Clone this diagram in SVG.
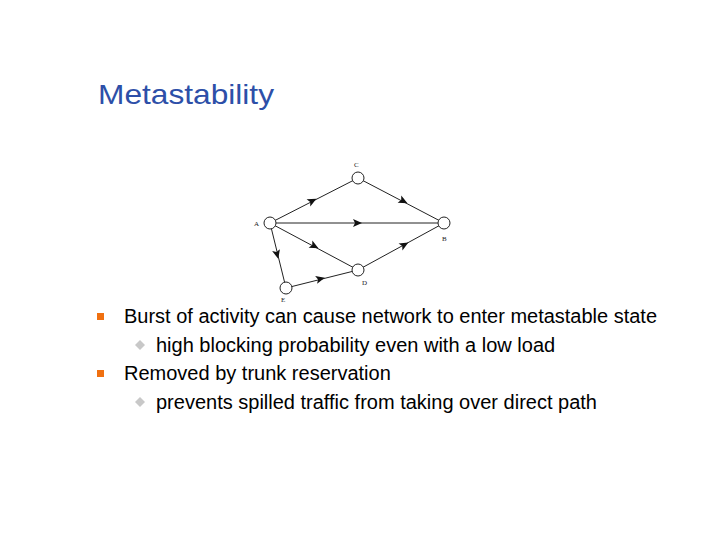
<svg xmlns="http://www.w3.org/2000/svg" width="720" height="540" viewBox="0 0 720 540">
<style>
.n{fill:#fff;stroke:#222;stroke-width:1}
.e{stroke:#222;stroke-width:1;fill:none}
.l{font-family:"Liberation Serif",serif;font-size:7px;fill:#222}
.t{font-family:"Liberation Sans",Arial,sans-serif;font-size:20px;fill:#000}
.a{fill:#111}
</style>
<defs>
<path id="ah" d="M5,0 L-4,-4 L-2,0 L-4,4 Z"/>
</defs>
<rect width="720" height="540" fill="#fff"/>
<text x="98" y="104" font-family="Liberation Sans,Arial,sans-serif" font-size="28" textLength="176" lengthAdjust="spacingAndGlyphs" fill="#2d4fa8">Metastability</text>
<g id="connectors">
<line class="e" x1="270" y1="223" x2="358" y2="178"/>
<line class="e" x1="358" y1="178" x2="444" y2="223"/>
<line class="e" x1="270" y1="223" x2="444" y2="223" stroke-width="1.3"/>
<line class="e" x1="270" y1="223" x2="358" y2="270"/>
<line class="e" x1="358" y1="270" x2="444" y2="223"/>
<line class="e" x1="270" y1="223" x2="286" y2="288"/>
<line class="e" x1="286" y1="288" x2="358" y2="270"/>
<use href="#ah" class="a" transform="translate(312,201) rotate(-27)"/>
<use href="#ah" class="a" transform="translate(403,201) rotate(27)"/>
<use href="#ah" class="a" transform="translate(357,223)"/>
<use href="#ah" class="a" transform="translate(314,246) rotate(28)"/>
<use href="#ah" class="a" transform="translate(404,245) rotate(-29)"/>
<use href="#ah" class="a" transform="translate(277,254) rotate(76)"/>
<use href="#ah" class="a" transform="translate(320,279) rotate(-14)"/>
</g>
<g id="A"><circle class="n" cx="270" cy="223" r="6"/><text class="l" x="254" y="226">A</text></g>
<g id="B"><circle class="n" cx="444" cy="223" r="6"/><text class="l" x="442" y="241">B</text></g>
<g id="C"><circle class="n" cx="358" cy="178" r="6"/><text class="l" x="354" y="167">C</text></g>
<g id="D"><circle class="n" cx="358" cy="270" r="6"/><text class="l" x="362" y="285">D</text></g>
<g id="E"><circle class="n" cx="286" cy="288" r="6"/><text class="l" x="281" y="302">E</text></g>
<rect x="97" y="313" width="7" height="7" fill="#f07010"/>
<rect x="97" y="370" width="7" height="7" fill="#f07010"/>
<path d="M140,340 L145,345 L140,350 L135,345 Z" fill="#c8c8c8"/>
<path d="M140,397 L145,402 L140,407 L135,402 Z" fill="#c8c8c8"/>
<text class="t" x="124" y="323" textLength="533" lengthAdjust="spacingAndGlyphs">Burst of activity can cause network to enter metastable state</text>
<text class="t" x="156" y="352">high blocking probability even with a low load</text>
<text class="t" x="124" y="380">Removed by trunk reservation</text>
<text class="t" x="156" y="409">prevents spilled traffic from taking over direct path</text>
</svg>
